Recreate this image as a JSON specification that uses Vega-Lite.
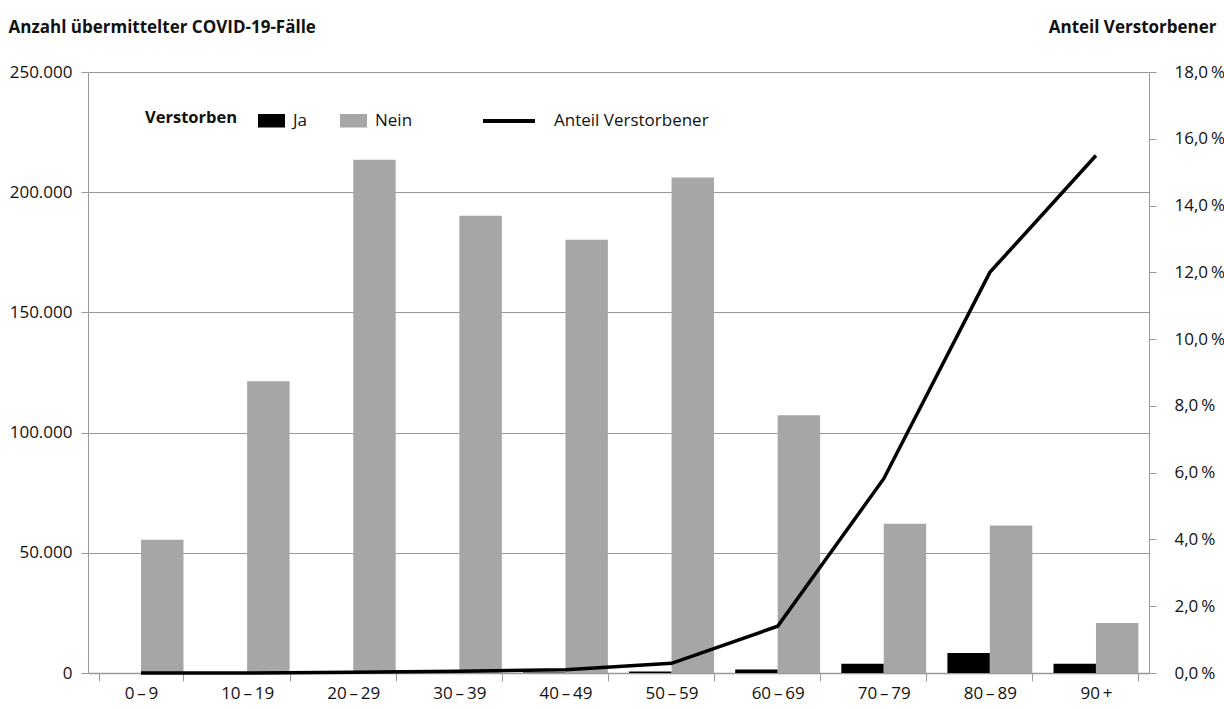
{
  "$schema": "https://vega.github.io/schema/vega-lite/v6.json",
  "width": 1061,
  "height": 601,
  "autosize": {"type": "none"},
  "padding": {"left": 88, "top": 72, "right": 75, "bottom": 36},
  "background": "white",
  "config": {
    "font": "Open Sans",
    "view": {"stroke": null},
    "axis": {"labelFont": "Open Sans", "labelFontSize": 17, "labelColor": "#111", "domainColor": "#999", "tickColor": "#999", "gridColor": "#999", "titleFont": "Open Sans", "titleFontSize": 17, "titleFontWeight": "bold", "titleColor": "#111"},
    "legend": {"labelFont": "Open Sans", "labelFontSize": 17, "labelColor": "#111", "titleFont": "Open Sans", "titleFontSize": 16.5, "titleColor": "#111"}
  },
  "datasets": {
    "bars": [
      {"age": "0\u2009\u2013\u20099", "status": "Ja", "count": 2},
      {"age": "0\u2009\u2013\u20099", "status": "Nein", "count": 55400},
      {"age": "10\u2009\u2013\u200919", "status": "Ja", "count": 5},
      {"age": "10\u2009\u2013\u200919", "status": "Nein", "count": 121400},
      {"age": "20\u2009\u2013\u200929", "status": "Ja", "count": 30},
      {"age": "20\u2009\u2013\u200929", "status": "Nein", "count": 213500},
      {"age": "30\u2009\u2013\u200939", "status": "Ja", "count": 90},
      {"age": "30\u2009\u2013\u200939", "status": "Nein", "count": 190200},
      {"age": "40\u2009\u2013\u200949", "status": "Ja", "count": 220},
      {"age": "40\u2009\u2013\u200949", "status": "Nein", "count": 180200},
      {"age": "50\u2009\u2013\u200959", "status": "Ja", "count": 600},
      {"age": "50\u2009\u2013\u200959", "status": "Nein", "count": 206100},
      {"age": "60\u2009\u2013\u200969", "status": "Ja", "count": 1500},
      {"age": "60\u2009\u2013\u200969", "status": "Nein", "count": 107200},
      {"age": "70\u2009\u2013\u200979", "status": "Ja", "count": 3800},
      {"age": "70\u2009\u2013\u200979", "status": "Nein", "count": 62100},
      {"age": "80\u2009\u2013\u200989", "status": "Ja", "count": 8300},
      {"age": "80\u2009\u2013\u200989", "status": "Nein", "count": 61400},
      {"age": "90\u2009+", "status": "Ja", "count": 3800},
      {"age": "90\u2009+", "status": "Nein", "count": 20800}
    ],
    "share": [
      {"age": "0\u2009\u2013\u20099", "anteil": 0.0},
      {"age": "10\u2009\u2013\u200919", "anteil": 0.0},
      {"age": "20\u2009\u2013\u200929", "anteil": 0.02},
      {"age": "30\u2009\u2013\u200939", "anteil": 0.05},
      {"age": "40\u2009\u2013\u200949", "anteil": 0.1},
      {"age": "50\u2009\u2013\u200959", "anteil": 0.29},
      {"age": "60\u2009\u2013\u200969", "anteil": 1.4},
      {"age": "70\u2009\u2013\u200979", "anteil": 5.82},
      {"age": "80\u2009\u2013\u200989", "anteil": 12.0},
      {"age": "90\u2009+", "anteil": 15.5}
    ]
  },
  "encoding": {
    "x": {
      "field": "age",
      "type": "nominal",
      "sort": null,
      "scale": {"paddingInner": 0.2, "paddingOuter": 0.1},
      "axis": {"title": null, "labelAngle": 0, "tickBand": "extent", "tickSize": 8, "labelPadding": 4, "grid": false, "domainWidth": 1.5}
    }
  },
  "layer": [
    {
      "data": {"name": "bars"},
      "mark": {"type": "bar"},
      "encoding": {
        "xOffset": {"field": "status", "type": "nominal", "sort": ["Ja", "Nein"]},
        "y": {
          "field": "count",
          "type": "quantitative",
          "scale": {"domain": [0, 250000], "nice": false},
          "axis": {
            "values": [0, 50000, 100000, 150000, 200000, 250000],
            "labelExpr": "replace(format(datum.value, ',d'), ',', '.')",
            "tickSize": 7,
            "labelPadding": 9,
            "grid": true,
            "gridWidth": 1.2,
            "title": "Anzahl übermittelter COVID-19-Fälle",
            "titleAngle": 0,
            "titleAlign": "left",
            "titleBaseline": "alphabetic",
            "titleX": -80,
            "titleY": -40
          }
        },
        "color": {
          "field": "status",
          "type": "nominal",
          "scale": {"domain": ["Ja", "Nein"], "range": ["#000000", "#a6a6a6"]},
          "legend": {
            "title": "Verstorben",
            "orient": "none",
            "direction": "horizontal",
            "legendX": 57,
            "legendY": 35,
            "titleOrient": "left",
            "titleFontWeight": "bold",
            "titlePadding": 20,
            "symbolType": "M-1,-0.5H1V0.5H-1Z",
            "symbolSize": 729,
            "symbolStrokeWidth": 0,
            "symbolOpacity": 1,
            "labelOffset": 8,
            "columnPadding": 32
          }
        }
      }
    },
    {
      "data": {"name": "share"},
      "mark": {"type": "line", "strokeWidth": 3.5, "strokeJoin": "miter"},
      "encoding": {
        "y": {
          "field": "anteil",
          "type": "quantitative",
          "scale": {"domain": [0, 18], "nice": false},
          "axis": {
            "orient": "right",
            "values": [0, 2, 4, 6, 8, 10, 12, 14, 16, 18],
            "labelExpr": "replace(format(datum.value, '.1f'), '.', ',') + '\u2009%'",
            "tickSize": 7,
            "labelPadding": 18,
            "grid": false,
            "title": "Anteil Verstorbener",
            "titleAngle": 0,
            "titleAlign": "right",
            "titleBaseline": "alphabetic",
            "titleX": 67,
            "titleY": -40
          }
        },
        "stroke": {
          "datum": "Anteil Verstorbener",
          "scale": {"range": ["#000000"]},
          "legend": {
            "title": null,
            "orient": "none",
            "direction": "horizontal",
            "legendX": 393,
            "legendY": 21,
            "symbolType": "stroke",
            "symbolSize": 2704,
            "symbolStrokeWidth": 4,
            "labelOffset": 17
          }
        }
      }
    }
  ],
  "resolve": {"scale": {"y": "independent"}}
}
